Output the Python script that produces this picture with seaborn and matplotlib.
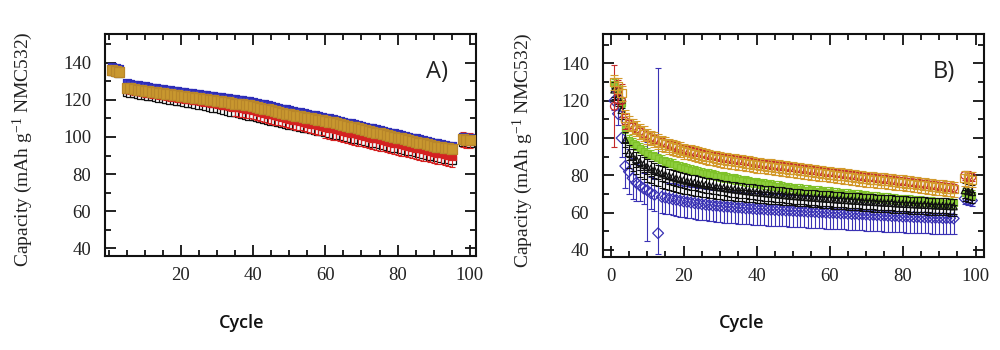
import matplotlib
matplotlib.use("Agg")
import matplotlib.pyplot as plt
import seaborn as sns
from matplotlib.ticker import MultipleLocator

# ---------------- Panel A data ----------------
A_CYCLE = [1, 2, 3] + list(range(5, 96)) + [98, 99, 100]

A_GOLD = [136.0, 135.6, 135.2,
          126.6, 126.2, 125.9, 125.5, 125.2,
          124.8, 124.6, 124.3, 124.0, 123.8, 123.5, 123.2, 123.0, 122.7, 122.4,
          122.1, 121.9, 121.6, 121.3, 121.0, 120.8, 120.5, 120.2, 119.9, 119.7,
          119.4, 119.1, 118.9, 118.6, 118.3, 118.0, 117.8, 117.5, 117.2, 117.0,
          116.7, 116.2, 115.8, 115.3, 114.9, 114.4, 114.0, 113.5, 113.1, 112.6,
          112.2, 111.8, 111.5, 111.1, 110.8, 110.4, 110.1, 109.7, 109.4, 109.0,
          108.7, 108.2, 107.8, 107.3, 106.9, 106.4, 106.0, 105.5, 105.1, 104.6,
          104.2, 103.7, 103.3, 102.8, 102.4, 101.9, 101.5, 101.0, 100.6, 100.1,
          99.7, 99.2, 98.8, 98.3, 97.9, 97.4, 97.0, 96.5, 96.1, 95.6,
          95.2, 94.8, 94.5, 94.1, 93.8, 93.4,
          98.8, 98.5, 98.2]
A_GOLD_ERR = 1.8

A_BLUE = [137.5, 137.0, 136.6,
          128.9, 128.6, 128.2, 127.9, 127.5,
          127.2, 126.9, 126.6, 126.3, 126.0, 125.8, 125.5, 125.2, 124.9, 124.7,
          124.4, 124.1, 123.8, 123.6, 123.3, 123.0, 122.8, 122.5, 122.2, 121.9,
          121.7, 121.4, 121.1, 120.9, 120.6, 120.3, 120.0, 119.8, 119.5, 119.2,
          118.9, 118.5, 118.0, 117.6, 117.1, 116.7, 116.2, 115.8, 115.3, 114.9,
          114.4, 114.0, 113.6, 113.2, 112.8, 112.4, 112.0, 111.6, 111.2, 110.8,
          110.4, 110.0, 109.5, 109.1, 108.6, 108.2, 107.7, 107.3, 106.8, 106.4,
          105.9, 105.5, 105.0, 104.6, 104.1, 103.7, 103.2, 102.8, 102.3, 101.9,
          101.4, 101.0, 100.5, 100.1, 99.6, 99.2, 98.7, 98.3, 97.8, 97.4,
          96.9, 96.5, 96.1, 95.7, 95.3, 94.9,
          100.0, 99.6, 99.2]
A_BLUE_ERR = 1.5

A_RED = [135.8, 135.4, 135.0,
         126.0, 125.6, 125.3, 124.9, 124.6,
         124.2, 123.9, 123.6, 123.3, 123.0, 122.7, 122.4, 122.1, 121.8, 121.5,
         121.2, 120.9, 120.6, 120.3, 120.0, 119.7, 119.4, 119.1, 118.7, 118.4,
         118.1, 117.8, 117.4, 117.1, 116.7, 116.4, 116.0, 115.7, 115.3, 115.0,
         114.6, 114.1, 113.6, 113.1, 112.6, 112.1, 111.7, 111.2, 110.7, 110.3,
         109.8, 109.4, 108.9, 108.5, 108.1, 107.6, 107.2, 106.8, 106.3, 105.9,
         105.5, 105.0, 104.6, 104.1, 103.7, 103.2, 102.8, 102.3, 101.9, 101.4,
         101.0, 100.5, 100.1, 99.6, 99.2, 98.7, 98.3, 97.8, 97.4, 96.9,
         96.5, 96.0, 95.6, 95.1, 94.7, 94.2, 93.8, 93.3, 92.9, 92.4,
         92.0, 91.6, 91.2, 90.8, 90.4, 90.0,
         98.6, 98.3, 98.0]
A_RED_ERR = [2.0] * 3 + [2.5] * 30 + [5.0] * 25 + [6.0] * 36 + [4.0] * 3

A_BLACK = [135.5, 135.0, 134.6,
           124.2, 123.8, 123.5, 123.1, 122.8,
           122.4, 122.1, 121.8, 121.4, 121.1, 120.8, 120.4, 120.1, 119.8, 119.4,
           119.1, 118.8, 118.4, 118.1, 117.7, 117.4, 117.0, 116.6, 116.2, 115.8,
           115.4, 115.0, 114.6, 114.2, 113.7, 113.3, 112.9, 112.4, 112.0, 111.5,
           111.1, 110.6, 110.2, 109.7, 109.3, 108.8, 108.4, 108.0, 107.5, 107.1,
           106.7, 106.3, 105.9, 105.5, 105.0, 104.6, 104.2, 103.8, 103.4, 103.0,
           102.6, 102.1, 101.7, 101.3, 100.8, 100.4, 100.0, 99.5, 99.1, 98.7,
           98.2, 97.8, 97.4, 96.9, 96.5, 96.1, 95.6, 95.2, 94.8, 94.3,
           93.9, 93.5, 93.0, 92.6, 92.2, 91.7, 91.3, 90.9, 90.4, 90.0,
           89.6, 89.2, 88.8, 88.4, 88.0, 87.6,
           97.5, 97.2, 96.9]
A_BLACK_ERR = 2.0

# ---------------- Panel B data ----------------
B_CYCLE = list(range(1, 95)) + [97, 98, 99]

B_GOLD = [130.0, 128.0, 124.0, 111.0,
          108.0, 106.4, 105.0, 103.6, 102.3,
          101.0, 100.0, 99.0, 98.1, 97.3, 96.5, 95.7, 95.0, 94.3, 93.6,
          93.0, 92.5, 92.0, 91.5, 91.0, 90.5, 90.1, 89.7, 89.3, 88.9,
          88.5, 88.2, 87.9, 87.6, 87.3, 87.0, 86.7, 86.4, 86.1, 85.8,
          85.5, 85.2, 85.0, 84.7, 84.5, 84.2, 84.0, 83.7, 83.5, 83.2,
          83.0, 82.7, 82.5, 82.2, 82.0, 81.7, 81.5, 81.2, 81.0, 80.7,
          80.5, 80.2, 80.0, 79.7, 79.5, 79.2, 79.0, 78.7, 78.5, 78.2,
          78.0, 77.8, 77.6, 77.4, 77.2, 77.0, 76.8, 76.6, 76.4, 76.2,
          76.0, 75.7, 75.5, 75.2, 75.0, 74.7, 74.5, 74.2, 74.0, 73.7,
          73.5, 73.3, 73.0, 72.8, 72.5,
          78.5, 78.0, 77.6]
B_GOLD_ERR = 4.0

B_RED = [117.0, 125.0, 120.0, 109.0,
         107.5, 106.0, 104.8, 103.5, 102.3,
         101.2, 100.3, 99.4, 98.6, 97.9, 97.2, 96.5, 95.9, 95.3, 94.7,
         94.1, 93.6, 93.1, 92.6, 92.2, 91.7, 91.3, 90.9, 90.5, 90.1,
         89.8, 89.4, 89.1, 88.8, 88.5, 88.2, 87.9, 87.6, 87.3, 87.0,
         86.7, 86.4, 86.2, 85.9, 85.6, 85.4, 85.1, 84.9, 84.6, 84.4,
         84.1, 83.9, 83.6, 83.4, 83.1, 82.9, 82.6, 82.4, 82.1, 81.9,
         81.6, 81.4, 81.1, 80.9, 80.6, 80.4, 80.1, 79.9, 79.6, 79.4,
         79.1, 78.9, 78.7, 78.4, 78.2, 78.0, 77.7, 77.5, 77.3, 77.0,
         76.8, 76.6, 76.3, 76.1, 75.8, 75.6, 75.3, 75.1, 74.8, 74.6,
         74.3, 74.1, 73.8, 73.6, 73.3,
         80.0, 79.6, 79.2]
B_RED_ERR = [22.0, 6.0, 9.0, 4.0] + [2.0] * 90 + [2.5] * 3

B_GREEN = [129.0, 126.0, 119.0, 105.0,
           99.0, 97.5, 96.0, 94.7, 93.3,
           92.0, 91.0, 90.1, 89.2, 88.3, 87.5, 86.8, 86.1, 85.4, 84.7,
           84.0, 83.5, 83.0, 82.5, 82.0, 81.5, 81.1, 80.7, 80.3, 79.9,
           79.5, 79.1, 78.8, 78.4, 78.1, 77.7, 77.4, 77.0, 76.7, 76.3,
           76.0, 75.7, 75.4, 75.1, 74.8, 74.5, 74.2, 73.9, 73.6, 73.3,
           73.0, 72.8, 72.6, 72.4, 72.2, 72.0, 71.8, 71.6, 71.4, 71.2,
           71.0, 70.8, 70.6, 70.4, 70.2, 70.0, 69.8, 69.6, 69.4, 69.2,
           69.0, 68.8, 68.6, 68.4, 68.2, 68.0, 67.8, 67.6, 67.4, 67.2,
           67.0, 66.8, 66.7, 66.5, 66.4, 66.2, 66.1, 65.9, 65.8, 65.6,
           65.5, 65.4, 65.2, 65.1, 65.0,
           70.5, 70.0, 69.6]
B_GREEN_ERR = 2.5

B_BLACK_TRI = [126.0, 122.0, 115.0, 99.0,
               92.0, 90.2, 88.6, 87.1, 85.8,
               84.6, 83.6, 82.7, 81.8, 81.0, 80.3, 79.6, 79.0, 78.4, 77.8,
               77.3, 76.8, 76.4, 76.0, 75.6, 75.2, 74.8, 74.5, 74.1, 73.8,
               73.5, 73.2, 72.9, 72.6, 72.4, 72.1, 71.9, 71.6, 71.4, 71.1,
               70.9, 70.7, 70.5, 70.3, 70.1, 69.9, 69.7, 69.5, 69.3, 69.1,
               68.9, 68.8, 68.6, 68.4, 68.3, 68.1, 68.0, 67.8, 67.7, 67.5,
               67.4, 67.2, 67.1, 66.9, 66.8, 66.7, 66.5, 66.4, 66.3, 66.1,
               66.0, 65.9, 65.8, 65.6, 65.5, 65.4, 65.3, 65.2, 65.0, 64.9,
               64.8, 64.7, 64.6, 64.5, 64.4, 64.3, 64.2, 64.1, 64.0, 63.9,
               63.8, 63.7, 63.6, 63.5, 63.4,
               72.0, 71.5, 71.0]
B_BLACK_TRI_ERR = 4.0

B_BLACK_DASH = [124.0, 120.0, 113.0, 95.0,
                87.0, 85.2, 83.6, 82.1, 80.8,
                79.6, 78.7, 77.9, 77.1, 76.4, 75.8, 75.2, 74.6, 74.1, 73.6,
                73.2, 72.8, 72.4, 72.1, 71.8, 71.5, 71.2, 70.9, 70.6, 70.4,
                70.2, 70.0, 69.8, 69.6, 69.4, 69.2, 69.0, 68.9, 68.7, 68.5,
                68.4, 68.2, 68.1, 67.9, 67.8, 67.6, 67.5, 67.3, 67.2, 67.0,
                66.9, 66.7, 66.6, 66.4, 66.3, 66.1, 66.0, 65.8, 65.7, 65.5,
                65.4, 65.2, 65.1, 64.9, 64.8, 64.6, 64.5, 64.3, 64.2, 64.0,
                63.9, 63.8, 63.6, 63.5, 63.4, 63.2, 63.1, 63.0, 62.9, 62.8,
                62.7, 62.6, 62.5, 62.4, 62.3, 62.2, 62.1, 62.0, 61.9, 61.8,
                61.7, 61.6, 61.5, 61.4, 61.3,
                69.0, 68.6, 68.2]
B_BLACK_DASH_ERR = 3.0

B_BLUE = [120.0, 113.0, 100.0, 85.0,
          82.0, 78.5, 76.0, 74.5, 73.0,
          72.0, 70.5, 69.5, 49.0, 68.5, 68.0, 67.6, 67.2, 66.8, 66.4,
          66.0, 65.7, 65.4, 65.1, 64.8, 64.5, 64.3, 64.0, 63.8, 63.6,
          63.4, 63.2, 63.1, 62.9, 62.8, 62.6, 62.5, 62.3, 62.2, 62.0,
          61.9, 61.8, 61.7, 61.6, 61.5, 61.4, 61.3, 61.2, 61.1, 61.0,
          60.9, 60.8, 60.7, 60.6, 60.5, 60.4, 60.3, 60.2, 60.1, 60.0,
          59.9, 59.8, 59.7, 59.6, 59.5, 59.4, 59.3, 59.2, 59.1, 59.0,
          58.9, 58.8, 58.7, 58.6, 58.5, 58.4, 58.3, 58.2, 58.1, 58.0,
          57.9, 57.8, 57.8, 57.7, 57.6, 57.5, 57.5, 57.4, 57.3, 57.2,
          57.2, 57.1, 57.0, 57.0, 56.9,
          67.5, 67.0, 66.5]
B_BLUE_ERR = 8.5
# (lower, upper) error for the cycles that differ from the typical value
B_BLUE_ERR_SPECIAL = {1: (5, 5), 2: (6, 6), 3: (10, 10), 4: (12, 13), 5: (12, 12),
                      6: (11, 11), 7: (10, 10), 10: (27, 26), 13: (11, 88.6),
                      97: (3, 3), 98: (3, 3), 99: (3, 3)}

X_TICKS_A = [20, 40, 60, 80, 100]
X_TICKS_B = [0, 20, 40, 60, 80, 100]
Y_TICKS = [40, 60, 80, 100, 120, 140]
Y_LABEL = "Capacity (mAh g$^{-1}$ NMC532)"
X_LABEL = "Cycle"
PANEL_LABELS = ["A)", "B)"]

# ---------------- style ----------------
sns.set_theme(style="ticks")
plt.rcParams["font.family"] = ["Liberation Serif", "DejaVu Serif"]
plt.rcParams["mathtext.fontset"] = "custom"
plt.rcParams["mathtext.rm"] = "Liberation Serif"
plt.rcParams["mathtext.it"] = "Liberation Serif:italic"
plt.rcParams["mathtext.default"] = "regular"

fig = plt.figure(figsize=(10, 3.5), dpi=100)
axA = fig.add_axes([0.105, 0.2686, 0.371, 0.634])
axB = fig.add_axes([0.603, 0.2666, 0.381, 0.636])


def series(ax, x, y, err, color, marker, face, ms, ecolor=None, z=2, elw=0.8, cap=2.5, mew=0.9):
    if ecolor is None:
        ecolor = color
    if isinstance(err, tuple):
        yerr = [err[0], err[1]]
    else:
        yerr = err
    ax.errorbar(x, y, yerr=yerr, fmt="none", ecolor=ecolor, elinewidth=elw,
                capsize=cap, capthick=elw, zorder=z)
    sns.scatterplot(x=x, y=y, ax=ax, marker=marker, s=ms ** 2,
                    facecolor=face, edgecolor=color, linewidth=mew,
                    zorder=z + 0.5, legend=False)


# Panel A
series(axA, A_CYCLE, A_BLACK, A_BLACK_ERR, "#111111", "s", "white", 5.5, z=2)
series(axA, A_CYCLE, A_RED, A_RED_ERR, "#d42222", "s", "#d42222", 5.5, z=3)
series(axA, A_CYCLE, A_BLUE, A_BLUE_ERR, "#2d2db8", "s", "#3a3ad0", 6.0, z=4)
series(axA, A_CYCLE, A_GOLD, A_GOLD_ERR, "#b8862a", "s", "#c9982f", 6.5,
       ecolor="#2a2a2a", z=5, elw=0.7, cap=1.2)

# Panel B
blue_lo = [B_BLUE_ERR_SPECIAL.get(c, (B_BLUE_ERR, B_BLUE_ERR))[0] for c in B_CYCLE]
blue_hi = [B_BLUE_ERR_SPECIAL.get(c, (B_BLUE_ERR, B_BLUE_ERR))[1] for c in B_CYCLE]
series(axB, B_CYCLE, B_BLUE, (blue_lo, blue_hi), "#3a32b4", "D", "none", 5.5, z=2)
series(axB, B_CYCLE, B_GREEN, B_GREEN_ERR, "#7fc22a", "s", "#8fcf3e", 4.5, z=3)
series(axB, B_CYCLE, B_BLACK_TRI, B_BLACK_TRI_ERR, "#111111", "^", "none", 5.0, z=4)
series(axB, B_CYCLE, B_BLACK_DASH, B_BLACK_DASH_ERR, "#111111", "_", "none", 5.5, z=5)
series(axB, B_CYCLE, B_RED, B_RED_ERR, "#c42a2a", "o", "none", 5.5, z=6)
series(axB, B_CYCLE, B_GOLD, B_GOLD_ERR, "#d39a2c", "s", "none", 6.0, z=7, cap=3.0)

for ax, xt, xl, yl, lab in [(axA, X_TICKS_A, (-1.0, 101.7), (35.9, 155.4), PANEL_LABELS[0]),
                            (axB, X_TICKS_B, (-2.1, 102.3), (36.4, 155.7), PANEL_LABELS[1])]:
    ax.set_xlim(*xl)
    ax.set_ylim(*yl)
    ax.set_xticks(xt)
    ax.set_yticks(Y_TICKS)
    ax.xaxis.set_minor_locator(MultipleLocator(5))
    ax.yaxis.set_minor_locator(MultipleLocator(10))
    ax.tick_params(which="both", direction="in", top=True, right=True,
                   width=1.3, colors="#111111", labelcolor="#222222")
    ax.tick_params(which="major", length=8, labelsize=13.5)
    ax.tick_params(which="minor", length=4)
    ax.tick_params(axis="y", which="major", pad=10)
    ax.tick_params(axis="x", which="major", pad=8)
    for sp in ax.spines.values():
        sp.set_linewidth(1.5)
        sp.set_color("#111111")
    ax.set_xlabel("")
    ax.set_ylabel(Y_LABEL, fontsize=14, color="#222222")
    ax.text(0.895, 0.83, lab, transform=ax.transAxes, ha="center", va="center",
            fontsize=17, family=["Open Sans", "DejaVu Sans"], color="#222222")

axA.yaxis.set_label_coords(-0.19, 0.48)
axB.yaxis.set_label_coords(-0.178, 0.48)

fig.text(0.242, 0.077, X_LABEL, ha="center", va="center", fontsize=13,
         family=["Open Sans", "DejaVu Sans"], weight="semibold", color="#111111")
fig.text(0.742, 0.077, X_LABEL, ha="center", va="center", fontsize=13,
         family=["Open Sans", "DejaVu Sans"], weight="semibold", color="#111111")

fig.savefig("out.png", dpi=100)
